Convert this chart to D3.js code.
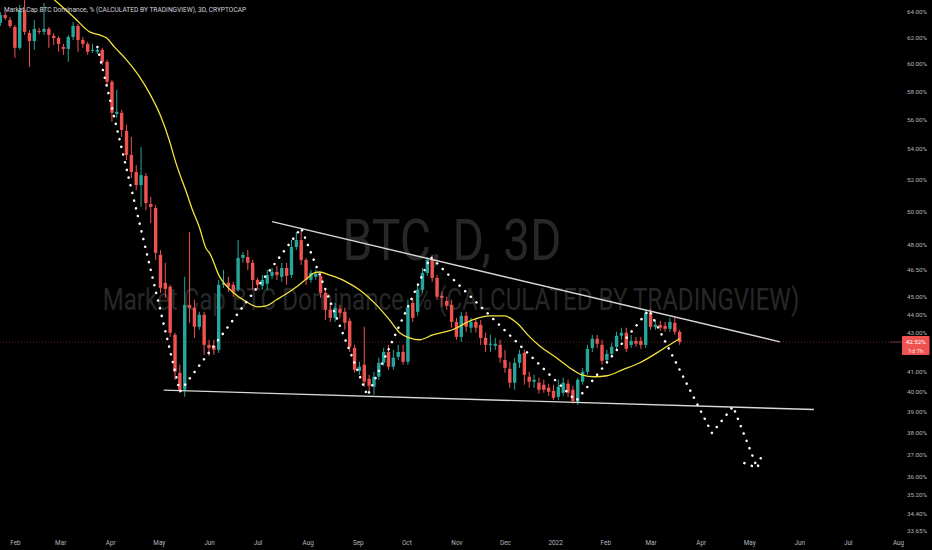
<!DOCTYPE html>
<html><head><meta charset="utf-8">
<script src="https://cdn.jsdelivr.net/npm/d3@7"></script>
<style>html,body{margin:0;padding:0;background:#000;overflow:hidden}</style>
</head><body>
<svg id="c" width="932" height="550"></svg>
<script>
// ---- DATA (3D candles, BTC dominance %) ----
const firstCandleDate = "2021-01-23";
const candleStepDays = 3;
const opens = [63.12,63.74,63.35,62.80,61.20,64.13,62.34,61.72,62.50,62.42,
62.65,62.11,61.95,61.27,61.12,62.03,62.88,61.80,61.50,60.97,
60.90,61.05,60.15,58.68,56.40,56.47,55.22,53.60,52.48,51.64,
52.22,50.44,50.19,47.36,45.75,45.53,42.90,40.93,40.08,44.52,
44.36,43.33,43.98,42.37,42.32,42.11,45.64,45.75,45.64,45.36,
47.19,47.24,46.90,45.92,45.58,45.70,46.15,46.37,46.09,46.60,
46.20,47.83,48.24,47.07,45.92,46.09,46.15,45.19,44.25,43.81,
44.30,44.14,43.65,42.21,41.03,41.34,40.63,40.23,40.73,41.44,
42.00,41.24,41.75,42.00,41.49,44.63,44.14,45.36,46.32,47.13,
46.03,45.02,44.74,44.52,43.59,42.79,43.92,43.28,43.59,43.43,
42.74,42.37,42.32,42.37,41.59,41.13,40.43,41.44,41.95,40.73,
40.48,40.43,40.33,40.18,40.03,39.73,39.93,40.38,40.08,39.49,
40.48,40.98,42.21,42.69,42.37,41.59,41.90,42.27,42.85,43.01,
42.37,42.58,42.58,42.37,44.08,43.33,43.43,43.38,43.22,43.54,
43.06];
const highs = [63.97,63.97,63.58,62.96,64.53,64.93,62.57,63.35,62.73,64.69,
62.80,62.34,62.11,61.50,62.19,63.19,63.04,62.03,61.65,61.50,
61.27,61.20,60.30,58.82,58.10,56.68,55.64,54.81,52.93,54.13,
52.41,50.88,50.38,47.65,46.90,45.64,43.01,41.34,46.09,48.72,
44.80,44.14,44.14,42.64,42.64,45.92,46.49,46.09,45.81,48.24,
47.53,47.65,47.07,46.03,46.20,46.49,46.60,46.72,46.90,46.90,
48.24,48.72,48.84,47.19,46.49,46.49,46.37,45.36,44.52,44.63,
44.52,44.36,43.81,42.37,41.49,43.33,40.83,40.98,41.70,42.21,
42.37,42.11,42.37,42.37,44.80,44.91,45.64,46.60,47.24,47.36,
46.20,45.25,44.97,44.80,43.81,44.14,44.14,43.81,43.81,43.70,
43.01,42.90,42.74,42.64,42.11,41.49,41.70,42.11,42.11,40.98,
40.83,40.68,40.58,40.38,40.33,40.58,40.68,40.58,40.28,40.68,
41.18,42.37,42.90,42.90,42.64,42.11,42.48,43.06,43.28,43.28,
42.90,42.79,42.79,44.25,44.30,43.70,43.65,43.59,43.81,43.81,
43.17];
const lows = [62.88,63.35,62.73,60.45,61.05,62.19,59.77,61.05,62.26,62.19,
61.20,61.42,60.90,60.67,60.15,61.80,60.90,61.20,60.67,60.82,
60.75,59.92,58.46,55.84,56.12,54.81,53.26,52.09,51.32,50.26,
50.07,49.27,47.07,45.19,44.91,42.79,40.58,39.93,39.73,43.54,
42.74,43.17,41.85,41.80,41.85,41.95,45.47,45.25,44.97,45.25,
46.90,46.49,45.36,45.41,45.36,45.36,45.98,45.92,45.81,45.64,
46.03,47.65,46.78,45.64,45.75,45.92,44.91,43.70,43.59,43.59,
43.81,43.17,42.00,40.93,40.83,40.23,39.98,39.83,40.58,41.29,
41.08,41.08,41.59,41.34,41.34,43.59,43.92,45.19,46.15,45.81,
44.80,44.41,44.25,43.28,42.64,42.53,43.06,43.01,43.01,42.37,
42.00,42.00,42.11,41.44,40.93,40.18,40.08,41.18,40.33,40.18,
40.18,39.88,39.93,39.78,39.58,39.58,39.78,39.73,39.39,39.34,
40.33,40.83,42.00,42.21,41.34,41.44,41.70,42.11,42.64,42.00,
42.21,42.27,42.16,42.21,43.17,43.17,43.12,43.06,43.06,42.90,
42.37];
const closes = [63.74,63.51,62.88,61.20,64.13,62.42,61.72,62.65,62.44,62.65,
62.19,61.95,61.50,61.12,62.03,62.88,61.80,61.50,60.90,61.05,
61.05,60.15,58.68,56.47,56.54,55.29,53.60,52.48,51.64,52.28,
50.50,50.26,47.48,45.47,45.41,43.01,40.98,40.08,44.52,44.36,
43.33,43.98,42.37,42.21,42.11,45.64,45.75,45.53,45.25,47.19,
47.36,46.90,45.92,45.64,45.92,46.20,46.37,46.20,46.60,46.15,
47.83,48.24,47.07,45.92,46.32,46.26,45.19,44.25,43.81,44.36,
44.08,43.54,42.27,41.08,41.24,40.48,40.28,40.73,41.44,42.00,
41.24,41.70,42.00,41.49,44.41,43.81,45.36,46.32,47.07,46.03,
44.97,44.91,44.47,43.59,42.79,43.92,43.33,43.59,43.28,42.74,
42.37,42.43,42.43,41.70,41.18,40.43,41.44,41.90,40.83,40.48,
40.58,40.08,40.08,39.98,39.68,40.23,40.43,39.93,39.53,40.58,
40.98,42.16,42.69,42.43,41.54,41.90,42.27,42.85,43.01,42.16,
42.58,42.43,42.37,44.08,43.33,43.43,43.28,43.22,43.59,43.06,
42.52];

// Moving average (yellow), positioned by candle index
const maIndex = [10.5,15.3,18.4,20.4,21.9,23.5,26,28.7,30.7,33.1,34.8,36.2,38.4,39.6,41,42.4,43.1,45.2,47.8,50.7,53,54.8,56.9,59.6,61.6,63.1,64.7,65.8,67.8,71.3,74,77.5,80.2,82.3,84.3,86.4,89.1,93.2,97.3,100.8,103.9,106.4,109.1,111.1,114.6,118,119.8,122.5,125,128.2,131.8,135.3,138.6,140];
const maValue = [65.17,63.51,62.42,62.19,61.95,61.27,60.30,59.04,57.88,56.19,54.60,53.06,51.13,50.07,49.03,47.74,47.48,46.09,45.25,44.69,44.41,44.47,44.80,45.25,45.64,45.98,46.32,46.37,46.20,45.81,45.36,44.52,43.70,43.01,42.74,42.64,42.90,43.17,43.70,43.92,43.92,43.54,42.79,42.32,41.70,41.08,40.83,40.73,40.78,41.08,41.44,41.95,42.48,42.69];

// Dotted path drawing
const pathDates = ["2021-03-24","2021-05-14","2021-07-28","2021-09-07","2021-10-16","2022-01-14","2022-02-28","2022-04-08","2022-04-21","2022-05-06","2022-05-09"];
const pathValues = [61.27,39.98,48.97,39.78,47.24,39.53,44.25,37.99,39.26,36.38,37.01];
const tailDates = ["2022-04-28","2022-05-06"];
const tailValues = [36.60,36.38];

// Trend lines
const upperDates = ["2021-07-10","2022-05-20"];
const upperValues = [49.35,42.53];
const lowerDates = ["2021-05-04","2022-06-10"];
const lowerValues = [40.06,39.11];

const yTicks = [64,62,60,58,56,54,52,50,48,46.5,45,44,43,41,40,39,38,37,36,35.2,34.4,33.65];
const monthTicks = ["2021-02-01","2021-03-01","2021-04-01","2021-05-01","2021-06-01","2021-07-01","2021-08-01","2021-09-01","2021-10-01","2021-11-01","2021-12-01","2022-01-01","2022-02-01","2022-03-01","2022-04-01","2022-05-01","2022-06-01","2022-07-01","2022-08-01"];
const lastPrice = 42.52;
const countdown = "1d 7h";
const titleText = "Market Cap BTC Dominance, % (CALCULATED BY TRADINGVIEW), 3D, CRYPTOCAP";
const watermark1 = "BTC, D, 3D";
const watermark2 = "Market Cap BTC Dominance, % (CALCULATED BY TRADINGVIEW)";

// ---- CHART ----
const UP = "#26a69a", DOWN = "#ef5350";
const svg = d3.select("#c");
svg.append("rect").attr("width",932).attr("height",550).attr("fill","#000");
const x = d3.scaleUtc().domain([new Date("2021-02-01"), new Date("2022-08-01")]).range([14.9, 898]);
const y = d3.scaleLog().domain([64, 33.65]).range([11.7, 531]);
const start = new Date(firstCandleDate + "T00:00:00Z");
const idxDate = i => new Date(start.getTime() + i * candleStepDays * 86400000);

svg.append("defs").append("clipPath").attr("id","plot").append("rect").attr("x",0).attr("y",0).attr("width",901).attr("height",536);
const plot = svg.append("g").attr("clip-path","url(#plot)");

// text fitted to a width by horizontal scaling (keeps real bounding box)
function fittedText(parent, str, cx, baseY, size, width, anchor, fill){
  const g = parent.append("g");
  const t = g.append("text").attr("x",0).attr("y",0).attr("text-anchor",anchor)
    .attr("font-family","Roboto, 'Liberation Sans', sans-serif").attr("font-size",size)
    .attr("fill",fill).text(str);
  const w = t.node().getComputedTextLength();
  g.attr("transform",`translate(${cx},${baseY}) scale(${width/w},1)`);
  return t;
}

// watermarks
fittedText(plot, watermark1, 452, 260, 58, 219, "middle", "#272727");
fittedText(plot, watermark2, 451, 310, 31, 697, "middle", "#272727");

// last price line
plot.append("line").attr("x1",0).attr("x2",901).attr("y1",y(lastPrice)).attr("y2",y(lastPrice))
  .attr("stroke","#5a2a2a").attr("stroke-width",1).attr("stroke-dasharray","1,2");

// candles
const candles = opens.map((o,i)=>({d:idxDate(i),o,h:highs[i],l:lows[i],c:closes[i]}));
const bw = 3.4;
const cg = plot.append("g");
cg.selectAll("line.w").data(candles).join("line")
  .attr("x1",d=>x(d.d)).attr("x2",d=>x(d.d))
  .attr("y1",d=>y(d.h)).attr("y2",d=>y(d.l))
  .attr("stroke",d=>d.c>=d.o?UP:DOWN).attr("stroke-width",1);
cg.selectAll("rect.b").data(candles).join("rect")
  .attr("x",d=>x(d.d)-bw/2).attr("width",bw)
  .attr("y",d=>Math.min(y(d.o),y(d.c)))
  .attr("height",d=>Math.max(1,Math.abs(y(d.o)-y(d.c))))
  .attr("fill",d=>d.c>=d.o?UP:DOWN);

// moving average
const ma = maIndex.map((k,i)=>({d:idxDate(k),v:maValue[i]}));
plot.append("path").datum(ma)
  .attr("d",d3.line().x(d=>x(d.d)).y(d=>y(d.v)).curve(d3.curveMonotoneX))
  .attr("fill","none").attr("stroke","#f2e33c").attr("stroke-width",1.3);

// trend lines
const tl = d3.line().x(d=>x(d.d)).y(d=>y(d.v));
[[upperDates,upperValues],[lowerDates,lowerValues]].forEach(([ds,vs])=>{
  plot.append("path").datum(ds.map((s,i)=>({d:new Date(s),v:vs[i]})))
    .attr("d",tl).attr("fill","none").attr("stroke","#d8d8d8").attr("stroke-width",1.4);
});

// dotted path
[[pathDates,pathValues],[tailDates,tailValues]].forEach(([ds,vs])=>{
  plot.append("path").datum(ds.map((s,i)=>({d:new Date(s),v:vs[i]})))
    .attr("d",tl).attr("fill","none").attr("stroke","#ffffff").attr("stroke-width",2.5)
    .attr("stroke-linecap","round").attr("stroke-linejoin","round").attr("stroke-dasharray","0.1 7.8");
});

// title
fittedText(svg, titleText, 4, 12, 7.2, 242, "start", "#d1d4dc");

// y axis
const fmt = d3.format(".2f");
const ya = svg.append("g").attr("transform","translate(927,0)")
  .call(d3.axisRight(y).tickValues(yTicks).tickFormat(d=>fmt(d)+"%").tickSize(0).tickPadding(0));
ya.select(".domain").remove();
ya.selectAll("text").attr("text-anchor","end").attr("x",0).attr("fill","#b2b5be")
  .attr("font-family","Roboto, sans-serif").attr("font-size",6.2);

// x axis
const xa = svg.append("g").attr("transform","translate(0,537)")
  .call(d3.axisBottom(x).tickValues(monthTicks.map(s=>new Date(s)))
    .tickFormat(d=>d.getUTCMonth()===0?String(d.getUTCFullYear()):d3.utcFormat("%b")(d)).tickSize(0).tickPadding(3));
xa.select(".domain").remove();
xa.selectAll("text").attr("fill","#b2b5be").attr("font-family","Roboto, sans-serif").attr("font-size",6.4);

// last price label
const ly = y(lastPrice);
svg.append("line").attr("x1",890).attr("x2",902).attr("y1",ly).attr("y2",ly).attr("stroke","#6a3030").attr("stroke-width",1);
svg.append("rect").attr("x",902).attr("y",ly-6).attr("width",27.5).attr("height",19).attr("rx",1).attr("fill","#ef5350");
svg.append("text").attr("x",915.7).attr("y",ly+2.2).attr("text-anchor","middle").attr("fill","#fff")
  .attr("font-family","Roboto, sans-serif").attr("font-size",6.2).text(fmt(lastPrice)+"%");
svg.append("text").attr("x",915.7).attr("y",ly+10.5).attr("text-anchor","middle").attr("fill","#ffe3e3")
  .attr("font-family","Roboto, sans-serif").attr("font-size",6.2).text(countdown);
</script>
</body></html>
